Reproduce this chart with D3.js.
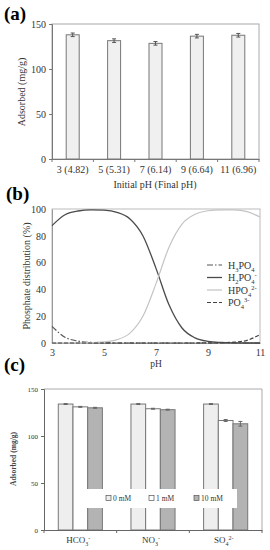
<!DOCTYPE html>
<html>
<head>
<meta charset="utf-8">
<script src="https://cdn.jsdelivr.net/npm/d3@7"></script>
<style>
  body { margin: 0; background: #fff; }
  svg { display: block; font-family: "Liberation Serif", "DejaVu Serif", serif; }
</style>
</head>
<body>
<div id="chart"></div>
<script>
// (a) adsorption vs initial pH
const phLabels = ["3 (4.82)", "5 (5.31)", "7 (6.14)", "9 (6.64)", "11 (6.96)"];
const phAdsorbed = [138, 131.5, 128.5, 136.5, 137.5];
const phError = [2, 2, 2, 2, 2];
const aTicks = [0, 50, 100, 150];

// (b) phosphate speciation
const pHs = [3, 3.5, 4, 4.5, 5, 5.5, 6, 6.5, 7, 7.5, 8, 8.5, 9, 9.5, 10, 10.5, 11];
const h3po4 = [12.4, 4.3, 1.4, 0.4, 0.1, 0, 0, 0, 0, 0, 0, 0, 0, 0, 0, 0, 0];
const h2po4 = [87.6, 95.7, 98.5, 99.3, 99.1, 97.5, 92.6, 79.9, 55.7, 28.5, 11.2, 3.8, 1.2, 0.4, 0.1, 0, 0];
const hpo4 = [0, 0, 0.1, 0.3, 0.8, 2.5, 7.4, 20.1, 44.3, 71.5, 88.8, 96.1, 98.7, 99.4, 99.3, 98.0, 94.0];
const po4 = [0, 0, 0, 0, 0, 0, 0, 0, 0, 0, 0, 0, 0.1, 0.2, 0.6, 2.0, 6.2];
const bYTicks = [0, 20, 40, 60, 80, 100];
const bXTicks = [3, 5, 7, 9, 11];

// (c) competing anions
const anions = ["HCO3", "NO3", "SO4"];
const concLabels = ["0 mM", "1 mM", "10 mM"];
const anionValues = [
  [134, 131, 130],
  [134, 129, 128],
  [134, 116.5, 113]
];
const anionErrors = [
  [0.5, 0.5, 0.5],
  [0.5, 0.5, 0.5],
  [0.5, 1, 2.5]
];
const cTicks = [0, 50, 100, 150];

const svg = d3.select("#chart").append("svg")
  .attr("width", 270)
  .attr("height", 550);

// ---------- panel (a) ----------
const ax = d3.scaleBand().domain(phLabels).range([52, 259]);
const ay = d3.scaleLinear().domain([0, 150]).range([159, 24]);
const ga = svg.append("g");

ga.append("text").attr("x", 4).attr("y", 20)
  .attr("font-size", 19).attr("font-weight", "bold").text("(a)");

// frame
ga.append("rect").attr("x", 52).attr("y", 24).attr("width", 207).attr("height", 135)
  .attr("fill", "none").attr("stroke", "#aaa");

const barW = 13;
ga.selectAll(".bar").data(phAdsorbed).enter().append("rect")
  .attr("x", (d, i) => ax(phLabels[i]) + ax.bandwidth() / 2 - barW / 2)
  .attr("y", d => ay(d))
  .attr("width", barW)
  .attr("height", d => ay(0) - ay(d))
  .attr("fill", "#f0f0f0").attr("stroke", "#777").attr("stroke-width", 1);

ga.selectAll(".err").data(phAdsorbed).enter().append("g").each(function (d, i) {
  const cx = ax(phLabels[i]) + ax.bandwidth() / 2;
  const g = d3.select(this);
  g.append("line").attr("x1", cx).attr("x2", cx)
    .attr("y1", ay(d + phError[i])).attr("y2", ay(d - phError[i])).attr("stroke", "#555");
  [d + phError[i], d - phError[i]].forEach(v => g.append("line")
    .attr("x1", cx - 2).attr("x2", cx + 2).attr("y1", ay(v)).attr("y2", ay(v)).attr("stroke", "#555"));
});

ga.append("g").attr("transform", "translate(52,0)")
  .call(d3.axisLeft(ay).tickValues(aTicks).tickSize(3).tickPadding(3))
  .call(g => g.attr("font-family", null))
  .call(g => g.select(".domain").attr("stroke", "#777"))
  .call(g => g.selectAll("line").attr("stroke", "#777"))
  .call(g => g.selectAll("text").attr("font-size", 10).attr("fill", "#333"));

const axisA = ga.append("g").attr("transform", "translate(0,159)")
  .call(d3.axisBottom(ax).tickSize(0).tickPadding(7))
  .call(g => g.attr("font-family", null))
  .call(g => g.select(".domain").attr("stroke", "#777"))
  .call(g => g.selectAll("text").attr("font-size", 10).attr("fill", "#333"));
// boundary ticks between categories
axisA.selectAll(".btick").data(d3.range(phLabels.length + 1)).enter().append("line")
  .attr("x1", i => 52 + i * ax.step()).attr("x2", i => 52 + i * ax.step())
  .attr("y1", 0).attr("y2", 3).attr("stroke", "#777");

ga.append("text").attr("transform", "translate(25,92) rotate(-90)")
  .attr("text-anchor", "middle").attr("font-size", 10).attr("fill", "#333")
  .text("Adsorbed  (mg/g)");
ga.append("text").attr("x", 155).attr("y", 188).attr("text-anchor", "middle")
  .attr("font-size", 10).attr("fill", "#333").text("Initial pH (Final pH)");

// ---------- panel (b) ----------
const bx = d3.scaleLinear().domain([3, 11]).range([52, 260]);
const by = d3.scaleLinear().domain([0, 100]).range([343, 209]);
const gb = svg.append("g");

gb.append("text").attr("x", 6).attr("y", 200)
  .attr("font-size", 19).attr("font-weight", "bold").text("(b)");

gb.append("rect").attr("x", 52).attr("y", 209).attr("width", 208).attr("height", 134)
  .attr("fill", "none").attr("stroke", "#bbb");

gb.append("g").attr("transform", "translate(52,0)")
  .call(d3.axisLeft(by).tickValues(bYTicks).tickSize(0).tickPadding(6))
  .call(g => g.attr("font-family", null))
  .call(g => g.select(".domain").attr("stroke", "#999"))
  .call(g => g.selectAll("text").attr("font-size", 10).attr("fill", "#333"));
gb.append("g").attr("transform", "translate(0,343)")
  .call(d3.axisBottom(bx).tickValues(bXTicks).tickSize(0).tickPadding(6))
  .call(g => g.attr("font-family", null))
  .call(g => g.select(".domain").attr("stroke", "#999"))
  .call(g => g.selectAll("text").attr("font-size", 10).attr("fill", "#333"));

const series = [
  { name: "H3PO4", values: h3po4, color: "#555", width: 1.2, dash: "6,2,1.5,2" },
  { name: "H2PO4", values: h2po4, color: "#4a4a4a", width: 1.3, dash: null },
  { name: "HPO4", values: hpo4, color: "#c4c4c4", width: 1.2, dash: null },
  { name: "PO4", values: po4, color: "#444", width: 1.2, dash: "4,2" }
];
const line = d3.line().x((d, i) => bx(pHs[i])).y(d => by(d)).curve(d3.curveMonotoneX);
gb.selectAll(".curve").data(series).enter().append("path")
  .attr("d", s => line(s.values))
  .attr("fill", "none")
  .attr("stroke", s => s.color)
  .attr("stroke-width", s => s.width)
  .attr("stroke-dasharray", s => s.dash);

// legend with sub/superscripts
const legendRows = [
  [["H", ""], ["3", "sub"], ["PO", ""], ["4", "sub"]],
  [["H", ""], ["2", "sub"], ["PO", ""], ["4", "sub"], ["-", "sup"]],
  [["HPO", ""], ["4", "sub"], ["2-", "sup"]],
  [["PO", ""], ["4", "sub"], ["3-", "sup"]]
];
legendRows.forEach((parts, i) => {
  const y = 265 + i * 12.5;
  const s = series[i];
  gb.append("line").attr("x1", 207).attr("x2", 222).attr("y1", y).attr("y2", y)
    .attr("stroke", s.color).attr("stroke-width", s.width).attr("stroke-dasharray", s.dash);
  const t = gb.append("text").attr("x", 228).attr("y", y + 3.5)
    .attr("font-size", 10).attr("fill", "#333");
  let shift = 0;
  parts.forEach(([txt, kind]) => {
    const want = kind === "sub" ? 3 : kind === "sup" ? -4 : 0;
    t.append("tspan").attr("dy", want - shift)
      .attr("font-size", kind ? 6.5 : 10).text(txt);
    shift = want;
  });
});

gb.append("text").attr("transform", "translate(30,276) rotate(-90)")
  .attr("text-anchor", "middle").attr("font-size", 10).attr("fill", "#333")
  .text("Phosphate distribution (%)");
gb.append("text").attr("x", 156).attr("y", 367).attr("text-anchor", "middle")
  .attr("font-size", 9.5).attr("fill", "#333").text("pH");

// ---------- panel (c) ----------
const cx0 = d3.scaleBand().domain(anions).range([44, 262]);
const cy = d3.scaleLinear().domain([0, 150]).range([530, 389]);
const cBar = 14.7;
const cx1 = d3.scaleBand().domain(concLabels)
  .range([cx0.bandwidth() / 2 - 1.5 * cBar, cx0.bandwidth() / 2 + 1.5 * cBar]);
const cFills = ["#eeeeee", "#ffffff", "#b3b3b3"];
const gc = svg.append("g");

gc.append("text").attr("x", 4).attr("y", 371)
  .attr("font-size", 19).attr("font-weight", "bold").text("(c)");

// top/right frame
gc.append("path").attr("d", `M44,389H262V530`).attr("fill", "none").attr("stroke", "#aaa");

const groups = gc.selectAll(".grp").data(anionValues).enter().append("g")
  .attr("transform", (d, i) => `translate(${cx0(anions[i])},0)`);
groups.each(function (vals, gi) {
  const g = d3.select(this);
  vals.forEach((v, j) => {
    g.append("rect").attr("x", cx1(concLabels[j])).attr("y", cy(v))
      .attr("width", cx1.bandwidth()).attr("height", cy(0) - cy(v))
      .attr("fill", cFills[j]).attr("stroke", "#777").attr("stroke-width", 1);
  });
  vals.forEach((v, j) => {
    const e = anionErrors[gi][j];
    const mx = cx1(concLabels[j]) + cx1.bandwidth() / 2;
    g.append("line").attr("x1", mx).attr("x2", mx).attr("y1", cy(v + e)).attr("y2", cy(v - e))
      .attr("stroke", "#666");
    [v + e, v - e].forEach(w => g.append("line").attr("x1", mx - 2).attr("x2", mx + 2)
      .attr("y1", cy(w)).attr("y2", cy(w)).attr("stroke", "#666"));
  });
});

gc.append("g").attr("transform", "translate(44,0)")
  .call(d3.axisLeft(cy).tickValues(cTicks).tickSize(3).tickPadding(3))
  .call(g => g.attr("font-family", null))
  .call(g => g.select(".domain").attr("stroke", "#666"))
  .call(g => g.selectAll("line").attr("stroke", "#666"))
  .call(g => g.selectAll("text").attr("font-size", 7).attr("fill", "#333"));
const axisC = gc.append("g").attr("transform", "translate(0,530)")
  .call(d3.axisBottom(cx0).tickSize(0).tickFormat(() => ""))
  .call(g => g.select(".domain").attr("stroke", "#666"));
axisC.selectAll(".btick").data(d3.range(anions.length + 1)).enter().append("line")
  .attr("x1", i => 44 + i * cx0.step()).attr("x2", i => 44 + i * cx0.step())
  .attr("y1", 0).attr("y2", 3).attr("stroke", "#666");

// x labels with sub/superscripts
const anionParts = [
  [["HCO", ""], ["3", "sub"], ["-", "sup"]],
  [["NO", ""], ["3", "sub"], ["-", "sup"]],
  [["SO", ""], ["4", "sub"], ["2-", "sup"]]
];
anionParts.forEach((parts, i) => {
  const t = gc.append("text").attr("x", cx0(anions[i]) + cx0.bandwidth() / 2 - 2).attr("y", 543)
    .attr("text-anchor", "middle").attr("font-size", 9).attr("fill", "#333");
  let shift = 0;
  parts.forEach(([txt, kind]) => {
    const want = kind === "sub" ? 2.5 : kind === "sup" ? -3.5 : 0;
    t.append("tspan").attr("dy", want - shift).attr("font-size", kind ? 6 : 9).text(txt);
    shift = want;
  });
});

gc.append("text").attr("transform", "translate(16,459) rotate(-90)")
  .attr("text-anchor", "middle").attr("font-size", 7.5).attr("font-weight", "bold")
  .attr("fill", "#444").text("Adsorbed (mg/g)");

// legend box
gc.append("rect").attr("x", 79).attr("y", 489).attr("width", 158).attr("height", 19)
  .attr("fill", "#fff");
const legX = [106, 149, 194];
concLabels.forEach((lab, j) => {
  gc.append("rect").attr("x", legX[j]).attr("y", 495.5).attr("width", 5).attr("height", 5)
    .attr("fill", cFills[j]).attr("stroke", "#555").attr("stroke-width", 0.7);
  gc.append("text").attr("x", legX[j] + 7).attr("y", 500.5)
    .attr("font-size", 7.5).attr("fill", "#333").text(lab);
});
</script>
</body>
</html>
